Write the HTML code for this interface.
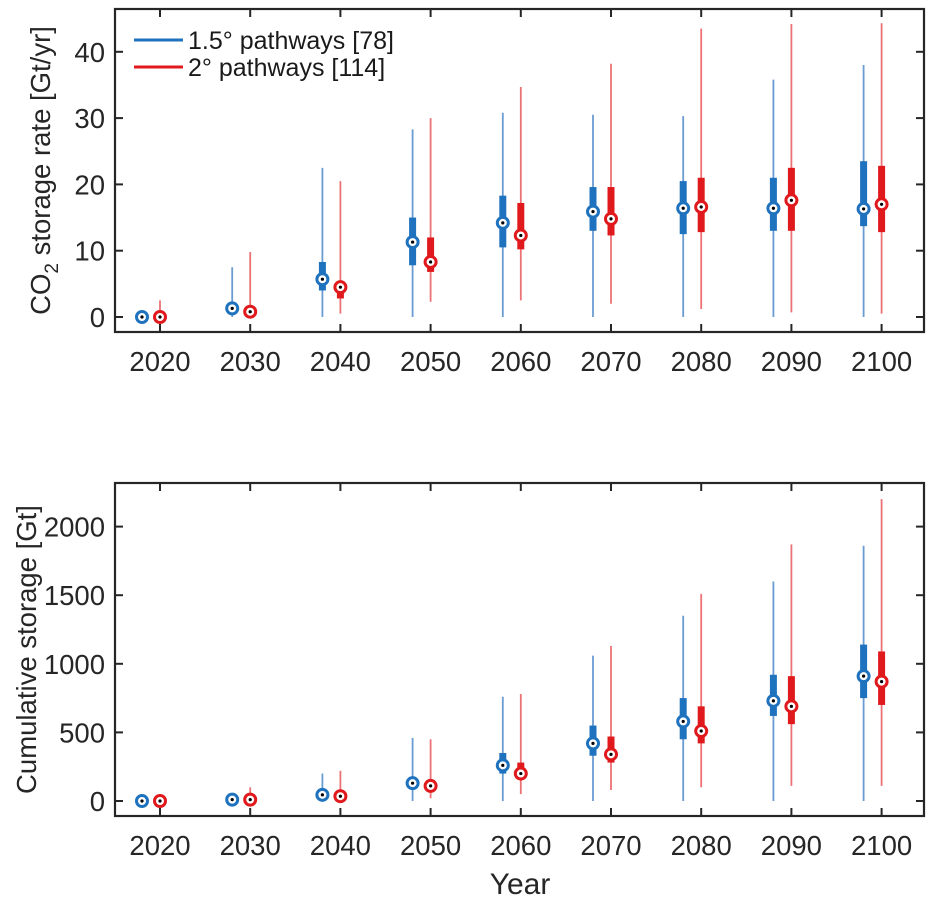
<!DOCTYPE html>
<html><head><meta charset="utf-8"><style>
html,body{margin:0;padding:0;background:#fff;}
svg{display:block;font-family:"Liberation Sans",Arial,sans-serif;}
</style></head><body>
<svg id="chart" width="935" height="900" viewBox="0 0 935 900" xmlns="http://www.w3.org/2000/svg"></svg>
<script>
const years = [2020,2030,2040,2050,2060,2070,2080,2090,2100];
// [min, q1, median, q3, max]
const rateBlue = [[0,0,0,0,0],[0,0.8,1.3,2,7.5],[0,4,5.7,8.3,22.5],[0,7.8,11.3,15,28.3],[0,10.5,14.2,18.3,30.8],[0,13,15.9,19.6,30.5],[0,12.5,16.4,20.5,30.3],[0,13,16.4,21,35.8],[0,13.7,16.3,23.5,38]];
const rateRed = [[0,0,0,0.3,2.5],[0,0.3,0.8,1.3,9.8],[0.5,2.8,4.5,5.3,20.5],[2.3,6.8,8.3,12,30],[2.5,10.2,12.3,17.2,34.7],[2,12.3,14.8,19.6,38.2],[1.2,12.8,16.6,21,43.5],[0.7,13,17.6,22.5,44.2],[0.5,12.8,17,22.8,44.3]];
const cumBlue = [[0,0,0,0,0],[0,5,10,15,40],[0,30,45,60,200],[0,100,130,170,460],[0,200,260,350,760],[0,330,420,550,1060],[0,450,580,750,1350],[0,620,730,920,1600],[0,750,910,1140,1860]];
const cumRed = [[0,0,0,0,20],[0,5,10,20,100],[0,20,35,60,220],[20,80,110,150,450],[50,160,200,280,780],[80,280,340,470,1130],[100,420,510,690,1510],[110,560,690,910,1870],[110,700,870,1090,2200]];
const rateTicks = [0,10,20,30,40];
const cumTicks = [0,500,1000,1500,2000];

const NS="http://www.w3.org/2000/svg";
const svg=document.getElementById('chart');
function mk(tag,attrs,parent){const e=document.createElementNS(NS,tag);for(const k in attrs)e.setAttribute(k,attrs[k]);(parent||svg).appendChild(e);return e;}
const BLUE="#1f72bd", RED="#e0191c", BLUEL="#6a9bd1", REDL="#ec7275";
const xScale=y=>160+(y-2020)*9.02;

function panel(name,top,bottom,y0px,pxPerUnit,ticks,blue,red,ylabel,ylx){
  const L=115,R=924;
  const ys=v=>y0px-v*pxPerUnit;
  const g=mk('g',{});
  
  
  years.forEach(yr=>{
    const x=xScale(yr);
    const t=mk('line',{x1:x,x2:x,y1:bottom,y2:bottom-8,stroke:'#262626','stroke-width':2},g);
    
    
    mk('line',{x1:x,x2:x,y1:top,y2:top+8,stroke:'#262626','stroke-width':2},g);
    const lb=mk('text',{x:x,y:bottom+39,'text-anchor':'middle','font-size':27.5,fill:'#262626'},g);
    lb.textContent=yr;
    
    
  });
  ticks.forEach(v=>{
    const y=ys(v);
    mk('line',{x1:L,x2:L+8,y1:y,y2:y,stroke:'#262626','stroke-width':2},g);
    mk('line',{x1:R,x2:R-8,y1:y,y2:y,stroke:'#262626','stroke-width':2},g);
    const lb=mk('text',{x:105,y:y+10,'text-anchor':'end','font-size':27.5,fill:'#262626'},g);
    lb.textContent=v;
    
    
  });
  function series(data,off,dark,light,sname){
    data.forEach((d,i)=>{
      const x=xScale(years[i])+off;
      const s=mk('g',{},g);
      
      
      mk('line',{x1:x,x2:x,y1:ys(d[0]),y2:ys(d[4]),stroke:light,'stroke-width':1.8},s);
      mk('rect',{x:x-3.5,y:ys(d[3]),width:7,height:Math.max(0,ys(d[1])-ys(d[3])),fill:dark},s);
      mk('circle',{cx:x,cy:ys(d[2]),r:5.5,fill:'#fff',stroke:dark,'stroke-width':3},s);
      mk('circle',{cx:x,cy:ys(d[2]),r:1.6,fill:'#000'},s);
    });
  }
  series(blue,-18,BLUE,BLUEL,'blue');
  series(red,0,RED,REDL,'red');
  const box=mk('rect',{x:L,y:top,width:R-L,height:bottom-top,fill:'none',stroke:'#262626','stroke-width':2.2},g);
  
  
  const yl=mk('text',{transform:`translate(${ylx},${(top+bottom)/2}) rotate(-90)`,'text-anchor':'middle','font-size':27.5,fill:'#262626'},g);
  yl.innerHTML=ylabel;
  
  
}
panel('rate-panel',9,332,317,6.63,rateTicks,rateBlue,rateRed,'CO<tspan font-size="19" dy="8">2</tspan><tspan dy="-8"> storage rate [Gt/yr]</tspan>',50);
panel('cumulative-panel',483,816,801,0.1372,cumTicks,cumBlue,cumRed,'Cumulative storage [Gt]',36);

const lg=mk('g',{});


[[BLUE,'1.5° pathways [78]',40],[RED,'2° pathways [114]',67]].forEach(([c,t,y])=>{
  const e=mk('g',{},lg);
  
  
  mk('line',{x1:134,x2:183,y1:y,y2:y,stroke:c,'stroke-width':3},e);
  const tx=mk('text',{x:188,y:y+9,'font-size':25,fill:'#1a1a1a'},e);
  tx.textContent=t;
});
const xt=mk('text',{x:520,y:894,'text-anchor':'middle','font-size':30,fill:'#262626'});
xt.textContent='Year';


</script>
</body></html>
